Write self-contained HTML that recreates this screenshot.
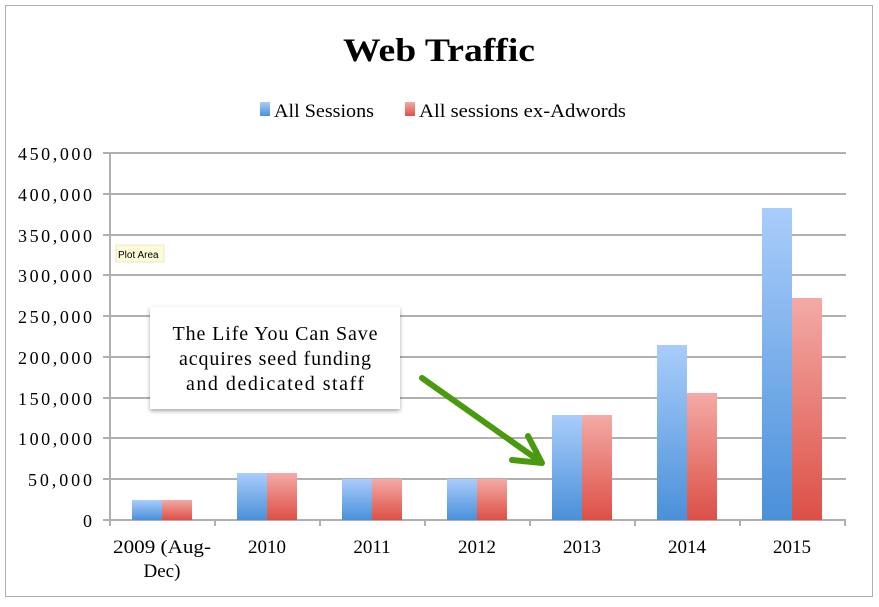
<!DOCTYPE html>
<html><head><style>body{margin:0;background:#fff}</style></head><body>
<svg width="879" height="602" xmlns="http://www.w3.org/2000/svg" font-family="Liberation Serif, serif">
<defs>
<linearGradient id="b" x1="0" y1="0" x2="0" y2="1"><stop offset="0" stop-color="#a9cdfb"/><stop offset="1" stop-color="#4a90d9"/></linearGradient>
<linearGradient id="r" x1="0" y1="0" x2="0" y2="1"><stop offset="0" stop-color="#f4aaa6"/><stop offset="1" stop-color="#dc5046"/></linearGradient>
<filter id="sh"><feDropShadow dx="0" dy="2" stdDeviation="2" flood-opacity="0.35"/></filter>
</defs>
<rect x="5.5" y="5.5" width="867" height="591" fill="#fff" stroke="#b0b0b0"/>
<text x="343" y="61" font-size="33" font-weight="bold" textLength="192" lengthAdjust="spacingAndGlyphs">Web Traffic</text>
<rect x="260" y="102" width="10" height="14" fill="url(#b)"/>
<text x="274" y="117" font-size="19" textLength="100" lengthAdjust="spacingAndGlyphs">All Sessions</text>
<rect x="405" y="102" width="10" height="14" fill="url(#r)"/>
<text x="419" y="117" font-size="19" textLength="207" lengthAdjust="spacingAndGlyphs">All sessions ex-Adwords</text>
<g stroke="#b0b0b0" stroke-width="2">
<line x1="103" y1="153" x2="846" y2="153"/><line x1="103" y1="194" x2="846" y2="194"/>
<line x1="103" y1="235" x2="846" y2="235"/><line x1="103" y1="275" x2="846" y2="275"/>
<line x1="103" y1="316" x2="846" y2="316"/><line x1="103" y1="357" x2="846" y2="357"/>
<line x1="103" y1="398" x2="846" y2="398"/><line x1="103" y1="438" x2="846" y2="438"/>
<line x1="103" y1="479" x2="846" y2="479"/><line x1="103" y1="520" x2="846" y2="520"/>
<line x1="110" y1="153" x2="110" y2="526"/>
<line x1="215" y1="520" x2="215" y2="526"/><line x1="320" y1="520" x2="320" y2="526"/>
<line x1="425" y1="520" x2="425" y2="526"/><line x1="530" y1="520" x2="530" y2="526"/>
<line x1="635" y1="520" x2="635" y2="526"/><line x1="740" y1="520" x2="740" y2="526"/>
<line x1="845" y1="520" x2="845" y2="526"/>
</g>
<g font-size="18" text-anchor="end" lengthAdjust="spacingAndGlyphs">
<text x="92" y="160" textLength="74">450,000</text><text x="92" y="201" textLength="74">400,000</text><text x="92" y="242" textLength="74">350,000</text>
<text x="92" y="282" textLength="74">300,000</text><text x="92" y="323" textLength="74">250,000</text><text x="92" y="364" textLength="74">200,000</text>
<text x="92" y="405" textLength="74">150,000</text><text x="92" y="445" textLength="74">100,000</text><text x="92" y="486" textLength="64">50,000</text>
<text x="92" y="527">0</text>
</g>
<g>
<rect x="132" y="500" width="30" height="20" fill="url(#b)"/><rect x="162" y="500" width="30" height="20" fill="url(#r)"/>
<rect x="237" y="473" width="30" height="47" fill="url(#b)"/><rect x="267" y="473" width="30" height="47" fill="url(#r)"/>
<rect x="342" y="479" width="30" height="41" fill="url(#b)"/><rect x="372" y="479" width="30" height="41" fill="url(#r)"/>
<rect x="447" y="479" width="30" height="41" fill="url(#b)"/><rect x="477" y="479" width="30" height="41" fill="url(#r)"/>
<rect x="552" y="415" width="30" height="105" fill="url(#b)"/><rect x="582" y="415" width="30" height="105" fill="url(#r)"/>
<rect x="657" y="345" width="30" height="175" fill="url(#b)"/><rect x="687" y="393" width="30" height="127" fill="url(#r)"/>
<rect x="762" y="208" width="30" height="312" fill="url(#b)"/><rect x="792" y="298" width="30" height="222" fill="url(#r)"/>
</g>
<g font-size="19" text-anchor="middle">
<text x="162" y="553" textLength="98" lengthAdjust="spacingAndGlyphs">2009 (Aug-</text><text x="162" y="577">Dec)</text>
<text x="267" y="553">2010</text><text x="372" y="553">2011</text><text x="477" y="553">2012</text>
<text x="582" y="553">2013</text><text x="687" y="553">2014</text><text x="792" y="553">2015</text>
</g>
<rect x="116" y="245" width="48" height="17" fill="#fefbd8" stroke="#d8d4a8" stroke-width="0.5"/>
<text x="118" y="258" font-family="Liberation Sans, sans-serif" font-size="10">Plot Area</text>
<rect x="150" y="307" width="250" height="102" fill="#fff" filter="url(#sh)"/>
<g font-size="20" text-anchor="middle" lengthAdjust="spacingAndGlyphs">
<text x="275" y="340" textLength="205">The Life You Can Save</text>
<text x="275" y="365" textLength="192">acquires seed funding</text>
<text x="275" y="390" textLength="178">and dedicated staff</text>
</g>
<g stroke="#4a9a10" stroke-width="6" fill="none" stroke-linecap="round" stroke-linejoin="round">
<line x1="422" y1="378" x2="538" y2="460"/>
<polyline points="512,460 542,463 528,436"/>
</g>
</svg>
</body></html>
